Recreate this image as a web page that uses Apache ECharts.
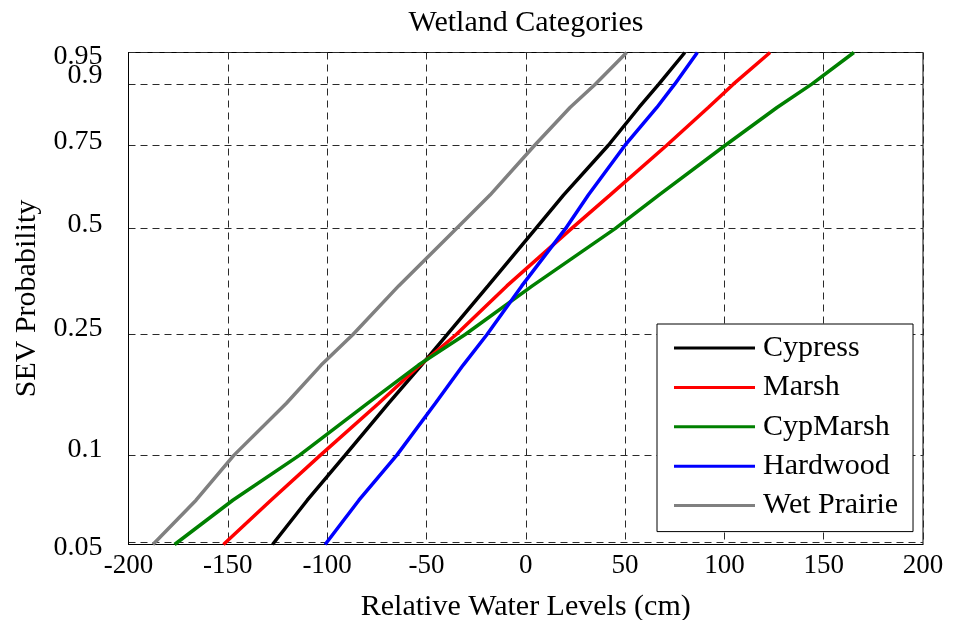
<!DOCTYPE html>
<html>
<head>
<meta charset="utf-8">
<script src="https://cdn.jsdelivr.net/npm/echarts@6/dist/echarts.min.js"></script>
<style>
  html, body { margin: 0; padding: 0; background: #fff; }
  #chart { width: 953px; height: 620px; }
</style>
</head>
<body>
<div id="chart"></div>
<script>
// Cumulative probabilities at which each curve is sampled
const probabilities = [0.049, 0.07, 0.1, 0.15, 0.2, 0.25, 0.35, 0.5, 0.6, 0.75, 0.85, 0.9, 0.95];

// Relative water level (cm) reached at each probability, per wetland category
const cypress    = [-127.5, -110.0, -91.0, -69.0, -52.5, -39.5, -19.0,  5.0, 19.0, 41.6, 57.0, 67.0,  80.1];
const marsh      = [-152.2, -128.3, -103.5, -74.0, -53.2, -35.0, -9.5, 23.0, 42.4, 71.0, 91.9, 104.5, 123.0];
const cypMarsh   = [-176.8, -147.5, -114.0, -79.5, -54.0, -30.5,  3.3, 45.0, 67.0, 100.5, 126.5, 144.0, 165.2];
const hardwood   = [-101.0, -84.0, -65.0, -45.5, -31.5, -19.5,  -2.0, 20.0, 31.5, 50.0, 66.0, 75.0,  86.4];
const wetPrairie = [-187.7, -166.0, -147.0, -120.5, -103.0, -87.0, -64.0, -35.0, -18.0, 4.5, 22.3, 35.0, 50.8];

const seriesNames = ['Cypress', 'Marsh', 'CypMarsh', 'Hardwood', 'Wet Prairie'];
const seriesValues = [cypress, marsh, cypMarsh, hardwood, wetPrairie];
const seriesColors = ['#000000', '#ff0000', '#008000', '#0000ff', '#808080'];

// Probability axis ticks
const probTicks = [0.05, 0.1, 0.25, 0.5, 0.75, 0.9, 0.95];
const probTickLabels = ['0.05', '0.1', '0.25', '0.5', '0.75', '0.9', '0.95'];
const probMin = 0.049;
const probMax = 0.95;

// Water level axis
const levelMin = -200;
const levelMax = 200;
const levelStep = 50;

// Smallest-extreme-value (Gumbel minimum) probability scale
function sev(p) { return Math.log(-Math.log(1 - p)); }

const tickPositions = probTicks.map(sev);
const FONT = "'Liberation Serif', 'Times New Roman', serif";

// Vertical nudge (px, positive = down) of each lower probability label;
// a small token line height keeps the label boxes from colliding
const labelNudge = [6, -6, -6, -4, -4, -9];
const labelRich = {};
labelNudge.forEach(function (d, i) {
  labelRich['t' + i] = {
    fontFamily: FONT, fontSize: 28, color: '#000', lineHeight: 4,
    padding: d >= 0 ? [2 * d, 0, 0, 0] : [0, 0, -2 * d, 0]
  };
});

function nearestTick(v) {
  let best = 0;
  for (let i = 1; i < tickPositions.length; i++) {
    if (Math.abs(tickPositions[i] - v) < Math.abs(tickPositions[best] - v)) best = i;
  }
  return best;
}

// Lower labels on the main axis; the top label sits on its own axis,
// set just inside the upper edge so it clears its close neighbour
const lowerTicks = tickPositions.slice(0, -1);
const topLabelSpot = [sev(0.9449)];

const chart = echarts.init(document.getElementById('chart'));

chart.setOption({
  animation: false,
  backgroundColor: '#ffffff',
  title: {
    text: 'Wetland Categories',
    left: 521,
    textAlign: 'center',
    top: 3,
    textStyle: { fontFamily: FONT, fontSize: 30, fontWeight: 'normal', color: '#000' }
  },
  grid: {
    left: 128.5, right: 30, top: 52.5, bottom: 75.5,
    outerBoundsMode: 'none',
    containLabel: false,
    show: true, borderColor: '#000', borderWidth: 1, backgroundColor: 'transparent'
  },
  legend: {
    orient: 'vertical',
    left: 657, top: 324,
    padding: [9, 15, 11, 17],
    itemGap: 9.4,
    itemWidth: 81,
    itemHeight: 3,
    icon: 'rect',
    backgroundColor: '#fff',
    borderColor: '#000',
    borderWidth: 1,
    borderRadius: 0,
    textStyle: { fontFamily: FONT, fontSize: 30, color: '#000', lineHeight: 30, padding: [0, 0, 0, 3] },
    data: seriesNames
  },
  xAxis: {
    type: 'value',
    min: levelMin, max: levelMax, interval: levelStep,
    name: 'Relative Water Levels (cm)',
    nameLocation: 'middle',
    nameGap: 48,
    nameTextStyle: { fontFamily: FONT, fontSize: 30, color: '#000' },
    axisLine: { show: true, onZero: false, lineStyle: { color: '#000', width: 1 } },
    axisTick: { show: false },
    axisLabel: { fontFamily: FONT, fontSize: 27, color: '#000', margin: 8,
                 showMinLabel: true, showMaxLabel: true },
    splitLine: { show: true, lineStyle: { color: '#2a2a2a', type: [7, 5], width: 1 } }
  },
  yAxis: [{
    type: 'value',
    position: 'left',
    min: sev(probMin), max: sev(probMax),
    name: 'SEV Probability',
    nameLocation: 'middle',
    nameGap: 86,
    nameTextStyle: { fontFamily: FONT, fontSize: 30, color: '#000' },
    axisLine: { show: true, onZero: false, lineStyle: { color: '#000', width: 1 } },
    axisTick: { show: false, customValues: tickPositions },
    axisLabel: {
      customValues: lowerTicks,
      showMinLabel: true,
      hideOverlap: false,
      verticalAlign: 'middle',
      fontFamily: FONT, fontSize: 28, color: '#000', margin: 26,
      rich: labelRich,
      formatter: function (v) {
        const i = nearestTick(v);
        return '{t' + i + '|' + probTickLabels[i] + '}';
      }
    },
    splitLine: { show: true, customValues: tickPositions, lineStyle: { color: '#2a2a2a', type: [7, 5], width: 1 } }
  }, {
    type: 'value',
    position: 'left',
    offset: 0,
    min: sev(probMin), max: sev(probMax),
    axisLine: { show: false },
    axisTick: { show: false },
    splitLine: { show: false },
    axisLabel: {
      customValues: topLabelSpot,
      verticalAlign: 'middle',
      fontFamily: FONT, fontSize: 28, color: '#000', margin: 26,
      formatter: function (v) { return probTickLabels[nearestTick(v)]; }
    }
  }],
  series: seriesNames.map(function (name, i) {
    return {
      name: name,
      type: 'line',
      yAxisIndex: 0,
      showSymbol: false,
      symbol: 'none',
      clip: true,
      color: seriesColors[i],
      lineStyle: { color: seriesColors[i], width: 3.5 },
      itemStyle: { color: seriesColors[i] },
      z: 3,
      data: seriesValues[i].map(function (x, j) { return [x, sev(probabilities[j])]; })
    };
  })
});
</script>
</body>
</html>
